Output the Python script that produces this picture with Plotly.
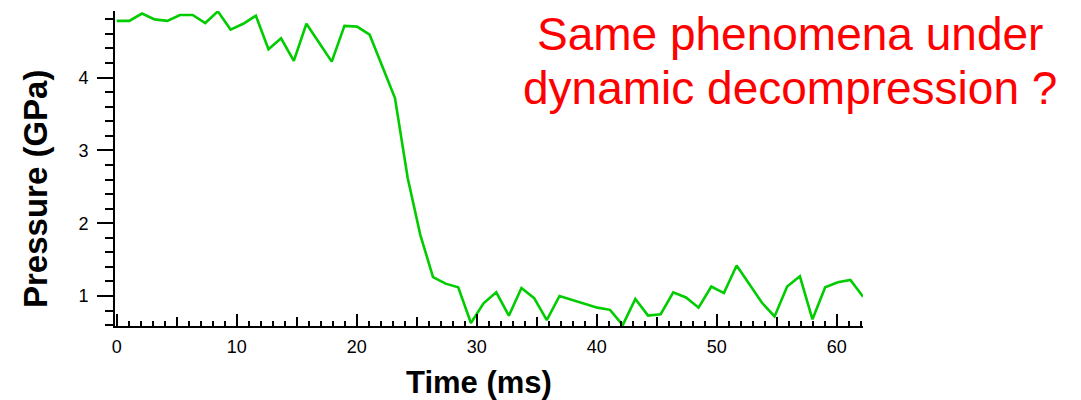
import plotly.graph_objects as go

# Pressure record during dynamic decompression
time_ms = [0.00, 1.05, 2.11, 3.16, 4.22, 5.27, 6.33, 7.38, 8.43, 9.49,
           10.54, 11.60, 12.65, 13.70, 14.76, 15.81, 16.87, 17.92, 18.98, 20.03,
           21.08, 22.14, 23.19, 24.25, 25.30, 26.36, 27.41, 28.46, 29.52, 30.57,
           31.63, 32.68, 33.73, 34.79, 35.84, 36.90, 37.95, 39.01, 40.06, 41.11,
           42.17, 43.22, 44.28, 45.33, 46.38, 47.44, 48.49, 49.55, 50.60, 51.66,
           52.71, 53.76, 54.82, 55.87, 56.93, 57.98, 59.04, 60.09, 61.14, 62.20]

pressure_gpa = [4.78, 4.78, 4.88, 4.80, 4.78, 4.86, 4.86, 4.75, 4.91, 4.66,
                4.74, 4.85, 4.39, 4.54, 4.23, 4.74, 4.48, 4.22, 4.71, 4.70,
                4.59, 4.15, 3.72, 2.62, 1.84, 1.26, 1.17, 1.12, 0.63, 0.90,
                1.05, 0.73, 1.11, 0.97, 0.67, 1.00, 0.95, 0.90, 0.84, 0.81,
                0.60, 0.96, 0.73, 0.75, 1.05, 0.98, 0.84, 1.13, 1.04, 1.42,
                1.17, 0.91, 0.72, 1.13, 1.27, 0.68, 1.12, 1.19, 1.22, 0.99]

x_title = "Time (ms)"
y_title = "Pressure (GPa)"
note_lines = ["Same phenomena under", "dynamic decompression ?"]

FONT = "Liberation Sans, Arial, Helvetica, sans-serif"
X_RANGE = [-0.14, 62.19]
Y_RANGE = [0.588, 4.915]

fig = go.Figure()
fig.add_trace(go.Scatter(
    x=time_ms, y=pressure_gpa, mode="lines",
    line=dict(color="rgb(0,204,0)", width=2.6),
    cliponaxis=False, showlegend=False, hoverinfo="x+y",
))
# invisible copy on the overlay axis that carries the 5 ms ticks
fig.add_trace(go.Scatter(
    x=time_ms, y=pressure_gpa, mode="lines", xaxis="x2",
    line=dict(color="rgba(0,0,0,0)", width=0),
    showlegend=False, hoverinfo="skip",
))

fig.update_layout(
    width=1081, height=400,
    margin=dict(l=115, r=218, t=11, b=74),
    paper_bgcolor="white", plot_bgcolor="white",
    font=dict(family=FONT, color="black", size=18),
    xaxis=dict(
        range=X_RANGE, showgrid=False, zeroline=False,
        showline=True, linecolor="black", linewidth=2,
        tickmode="linear", tick0=0, dtick=10,
        ticks="inside", ticklen=12, tickwidth=2, tickcolor="black",
        ticklabelstandoff=3,
        tickfont=dict(size=18, family=FONT, color="black"),
        minor=dict(dtick=1, tick0=0, ticks="inside", ticklen=5,
                   tickwidth=1.6, tickcolor="black", showgrid=False),
    ),
    xaxis2=dict(
        range=X_RANGE, overlaying="x", anchor="y", side="bottom",
        showgrid=False, zeroline=False, showline=False,
        tickmode="linear", tick0=0, dtick=5,
        ticks="inside", ticklen=9, tickwidth=1.8, tickcolor="black",
        showticklabels=False,
    ),
    yaxis=dict(
        range=Y_RANGE, showgrid=False, zeroline=False,
        showline=True, linecolor="black", linewidth=2,
        tickmode="linear", tick0=0, dtick=1,
        ticks="outside", ticklen=16, tickwidth=2, tickcolor="black",
        ticklabelstandoff=5,
        tickfont=dict(size=18, family=FONT, color="black"),
        minor=dict(dtick=0.2, tick0=0, ticks="outside", ticklen=8,
                   tickwidth=1.6, tickcolor="black", showgrid=False),
    ),
)

fig.add_annotation(
    text=f"<b>{x_title}</b>", xref="paper", yref="paper",
    x=0.4866, y=-0.178, xanchor="center", yanchor="middle",
    showarrow=False, font=dict(size=31, family=FONT, color="black"),
)
fig.add_annotation(
    text=f"<b>{y_title}</b>", xref="paper", yref="paper",
    x=-0.1056, y=0.435, xanchor="center", yanchor="middle", textangle=-90,
    showarrow=False, font=dict(size=33, family=FONT, color="black"),
)
for line, ypos in zip(note_lines, [0.928, 0.757]):
    fig.add_annotation(
        text=line, xref="paper", yref="paper",
        x=0.902, y=ypos, xanchor="center", yanchor="middle",
        showarrow=False, font=dict(size=46, family=FONT, color="rgb(255,0,0)"),
    )

fig.write_html("out.html")
